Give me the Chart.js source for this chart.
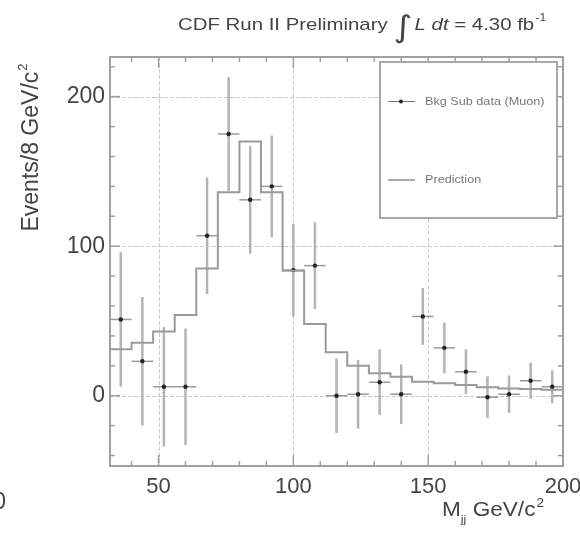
<!DOCTYPE html>
<html>
<head>
<meta charset="utf-8">
<script src="https://cdn.jsdelivr.net/npm/chart.js@4/dist/chart.umd.min.js"></script>
<style>
  html, body { margin: 0; padding: 0; background: #fff; }
  #wrap { width: 580px; height: 542px; position: relative; }
</style>
</head>
<body>
<div id="wrap"><canvas id="c" width="580" height="542"></canvas></div>
<script>
// ---- data ----
const binEdges = [32,40,48,56,64,72,80,88,96,104,112,120,128,136,144,152,160,168,176,184,192,200];
const binCenters = [36,44,52,60,68,76,84,92,100,108,116,124,132,140,148,156,164,172,180,188,196];
const dataValues = [51,23,6,6,107,175,131,140,84,87,0,1,9,1,53,32,16,-1,1,10,6];
const dataErrors = [45,43,40,39,39,38,36,34,31,29,25,23,22,20,19,17,15,14,12.5,12,11];
const prediction = [31,35.5,43,54,85,136,170,136,83.6,48,29,20,15,12.7,9.4,8.3,7.2,5.6,4.9,4.5,4];
const yTickValues = [0,100,200];
const xTickValues = [50,100,150,200];
const xMinorStep = 10;
const yMinorStep = 20;
const titleParts = ["CDF Run II Preliminary", "\u222B", "L", "dt", " = 4.30 fb", "-1"];
const legendLabels = ["Bkg Sub data (Muon)", "Prediction"];
const yTitle = ["Events/8 GeV/c", "2"];
const xTitle = ["M", "jj", " GeV/c", "2"];

const FONT = '"Liberation Sans", Arial, Helvetica, sans-serif';

const predPoints = binEdges.map((e, i) => ({x: e, y: prediction[Math.min(i, prediction.length - 1)]}));
const dataPoints = binCenters.map((c, i) => ({x: c, y: dataValues[i]}));

const decor = {
  id: 'decor',
  beforeDatasetsDraw(chart) {
    const {ctx, chartArea: a, scales: {x, y}} = chart;
    ctx.save();
    // grid
    ctx.strokeStyle = '#c8c8c8';
    ctx.lineWidth = 1;
    ctx.setLineDash([4, 2]);
    xTickValues.forEach(v => {
      const px = Math.round(x.getPixelForValue(v)) + 0.5;
      if (px < a.right - 2) { ctx.beginPath(); ctx.moveTo(px, a.top); ctx.lineTo(px, a.bottom); ctx.stroke(); }
    });
    yTickValues.forEach(v => {
      const py = Math.round(y.getPixelForValue(v)) + 0.5;
      ctx.beginPath(); ctx.moveTo(a.left, py); ctx.lineTo(a.right, py); ctx.stroke();
    });
    ctx.setLineDash([]);
    // error bars
    binCenters.forEach((c, i) => {
      const px = x.getPixelForValue(c);
      const py = y.getPixelForValue(dataValues[i]);
      const top = y.getPixelForValue(dataValues[i] + dataErrors[i]);
      const bot = y.getPixelForValue(dataValues[i] - dataErrors[i]);
      ctx.strokeStyle = '#b4b4b4';
      ctx.lineWidth = 2.5;
      ctx.beginPath(); ctx.moveTo(px, top); ctx.lineTo(px, bot); ctx.stroke();
      const lx = x.getPixelForValue(c - 4), rx = x.getPixelForValue(c + 4);
      ctx.strokeStyle = '#9a9a9a';
      ctx.lineWidth = 1.5;
      ctx.beginPath(); ctx.moveTo(lx, py); ctx.lineTo(rx, py); ctx.stroke();
    });
    ctx.restore();
  },
  afterDatasetsDraw(chart) {
    const {ctx, chartArea: a, scales: {x, y}} = chart;
    ctx.save();
    // frame
    ctx.strokeStyle = '#a0a0a0';
    ctx.lineWidth = 2;
    ctx.strokeRect(a.left, a.top, a.right - a.left, a.bottom - a.top);
    // ticks on all sides
    ctx.strokeStyle = '#a0a0a0';
    ctx.lineWidth = 1.5;
    for (let v = Math.ceil(x.min / xMinorStep) * xMinorStep; v <= x.max; v += xMinorStep) {
      const px = x.getPixelForValue(v);
      const len = (v % 50 === 0) ? 11 : 5;
      ctx.beginPath(); ctx.moveTo(px, a.bottom); ctx.lineTo(px, a.bottom - len); ctx.stroke();
      ctx.beginPath(); ctx.moveTo(px, a.top); ctx.lineTo(px, a.top + len); ctx.stroke();
    }
    for (let v = Math.ceil(y.min / yMinorStep) * yMinorStep; v <= y.max; v += yMinorStep) {
      const py = y.getPixelForValue(v);
      const len = (v % 100 === 0) ? 10 : 5;
      ctx.beginPath(); ctx.moveTo(a.left, py); ctx.lineTo(a.left + len, py); ctx.stroke();
      ctx.beginPath(); ctx.moveTo(a.right, py); ctx.lineTo(a.right - len, py); ctx.stroke();
    }
    // legend box
    const bx = 380, by = 62, bw = 177, bh = 156;
    ctx.fillStyle = '#fff';
    ctx.fillRect(bx, by, bw, bh);
    ctx.strokeStyle = '#a8a8a8';
    ctx.lineWidth = 2;
    ctx.strokeRect(bx, by, bw, bh);
    // entry 1
    ctx.strokeStyle = '#777';
    ctx.lineWidth = 1;
    ctx.beginPath(); ctx.moveTo(388, 101.5); ctx.lineTo(415, 101.5); ctx.stroke();
    ctx.fillStyle = '#222';
    ctx.beginPath(); ctx.arc(401, 101.5, 2, 0, Math.PI * 2); ctx.fill();
    // entry 2
    ctx.strokeStyle = '#aaa';
    ctx.lineWidth = 2;
    ctx.beginPath(); ctx.moveTo(388, 180); ctx.lineTo(415, 180); ctx.stroke();
    ctx.fillStyle = '#777';
    ctx.textBaseline = 'middle';
    ctx.font = '11px ' + FONT;
    [[legendLabels[0], 101.5], [legendLabels[1], 180]].forEach(([t, ty]) => {
      ctx.save(); ctx.translate(425, ty); ctx.scale(1.15, 1); ctx.fillText(t, 0, 0); ctx.restore();
    });

    // title
    ctx.fillStyle = '#444';
    ctx.textBaseline = 'alphabetic';
    ctx.save();
    ctx.translate(178, 30);
    ctx.scale(1.2, 1);
    let cx = 0;
    ctx.font = '17px ' + FONT;
    ctx.fillText(titleParts[0], cx, 0); cx += ctx.measureText(titleParts[0] + ' ').width;
    ctx.font = '30px "DejaVu Sans", ' + FONT;
    ctx.fillText(titleParts[1], cx, 7); cx += ctx.measureText(titleParts[1]).width + 2;
    ctx.font = 'italic 17px ' + FONT;
    ctx.fillText(titleParts[2], cx, 0); cx += ctx.measureText(titleParts[2] + ' ').width;
    ctx.fillText(titleParts[3], cx, 0); cx += ctx.measureText(titleParts[3]).width;
    ctx.font = '17px ' + FONT;
    ctx.fillText(titleParts[4], cx, 0); cx += ctx.measureText(titleParts[4]).width;
    ctx.font = '10px ' + FONT;
    ctx.fillText(titleParts[5], cx + 1, -9);
    ctx.restore();

    // y title
    ctx.save();
    ctx.translate(38, 148);
    ctx.rotate(-Math.PI / 2);
    ctx.font = '23px ' + FONT;
    const w1 = ctx.measureText(yTitle[0]).width;
    ctx.font = '13px ' + FONT;
    const w2 = ctx.measureText(yTitle[1]).width;
    let sx = -(w1 + w2) / 2;
    ctx.font = '23px ' + FONT;
    ctx.fillText(yTitle[0], sx, 0);
    ctx.font = '13px ' + FONT;
    ctx.fillText(yTitle[1], sx + w1 + 1, -11);
    ctx.restore();

    // x title
    ctx.save();
    ctx.translate(442, 516);
    ctx.scale(1.13, 1);
    cx = 0;
    ctx.font = '20px ' + FONT;
    ctx.fillText(xTitle[0], cx, 0); cx += ctx.measureText(xTitle[0]).width;
    ctx.font = '11px ' + FONT;
    ctx.fillText(xTitle[1], cx, 7); cx += ctx.measureText(xTitle[1]).width;
    ctx.font = '20px ' + FONT;
    ctx.fillText(xTitle[2], cx, 0); cx += ctx.measureText(xTitle[2]).width;
    ctx.font = '12px ' + FONT;
    ctx.fillText(xTitle[3], cx + 1, -9);
    ctx.restore();

    // stray clipped label at bottom-left
    ctx.font = '23px ' + FONT;
    ctx.textAlign = 'right';
    ctx.textBaseline = 'middle';
    ctx.fillText('0', 6, 503);
    ctx.restore();
  }
};

new Chart(document.getElementById('c'), {
  type: 'scatter',
  data: {
    datasets: [
      {
        type: 'line',
        label: legendLabels[1],
        data: predPoints,
        stepped: true,
        borderColor: '#9a9a9a',
        borderWidth: 2,
        pointRadius: 0,
        fill: false
      },
      {
        type: 'scatter',
        label: legendLabels[0],
        data: dataPoints,
        pointRadius: 2.2,
        pointBackgroundColor: '#222',
        pointBorderWidth: 0
      }
    ]
  },
  options: {
    responsive: false,
    animation: false,
    devicePixelRatio: 1,
    layout: { padding: { top: 57, right: 17, left: 0, bottom: 0 } },
    plugins: { legend: { display: false }, tooltip: { enabled: false }, title: { display: false } },
    scales: {
      x: {
        type: 'linear',
        min: 32, max: 200,
        grid: { display: false, drawTicks: false },
        border: { display: false },
        afterBuildTicks: s => { s.ticks = xTickValues.map(v => ({value: v})); },
        afterFit: s => { s.height = 76; s.paddingLeft = 0; s.paddingRight = 0; },
        ticks: { color: '#444', font: { size: 22, family: FONT }, padding: 8, maxRotation: 0, autoSkip: false }
      },
      y: {
        type: 'linear',
        min: -47, max: 226.5,
        grid: { display: false, drawTicks: false },
        border: { display: false },
        afterBuildTicks: s => { s.ticks = yTickValues.map(v => ({value: v})); },
        afterFit: s => { s.width = 110; s.paddingTop = 0; s.paddingBottom = 0; },
        ticks: { color: '#444', font: { size: 23, family: FONT }, padding: 5, autoSkip: false }
      }
    }
  },
  plugins: [decor]
});
</script>
</body>
</html>
